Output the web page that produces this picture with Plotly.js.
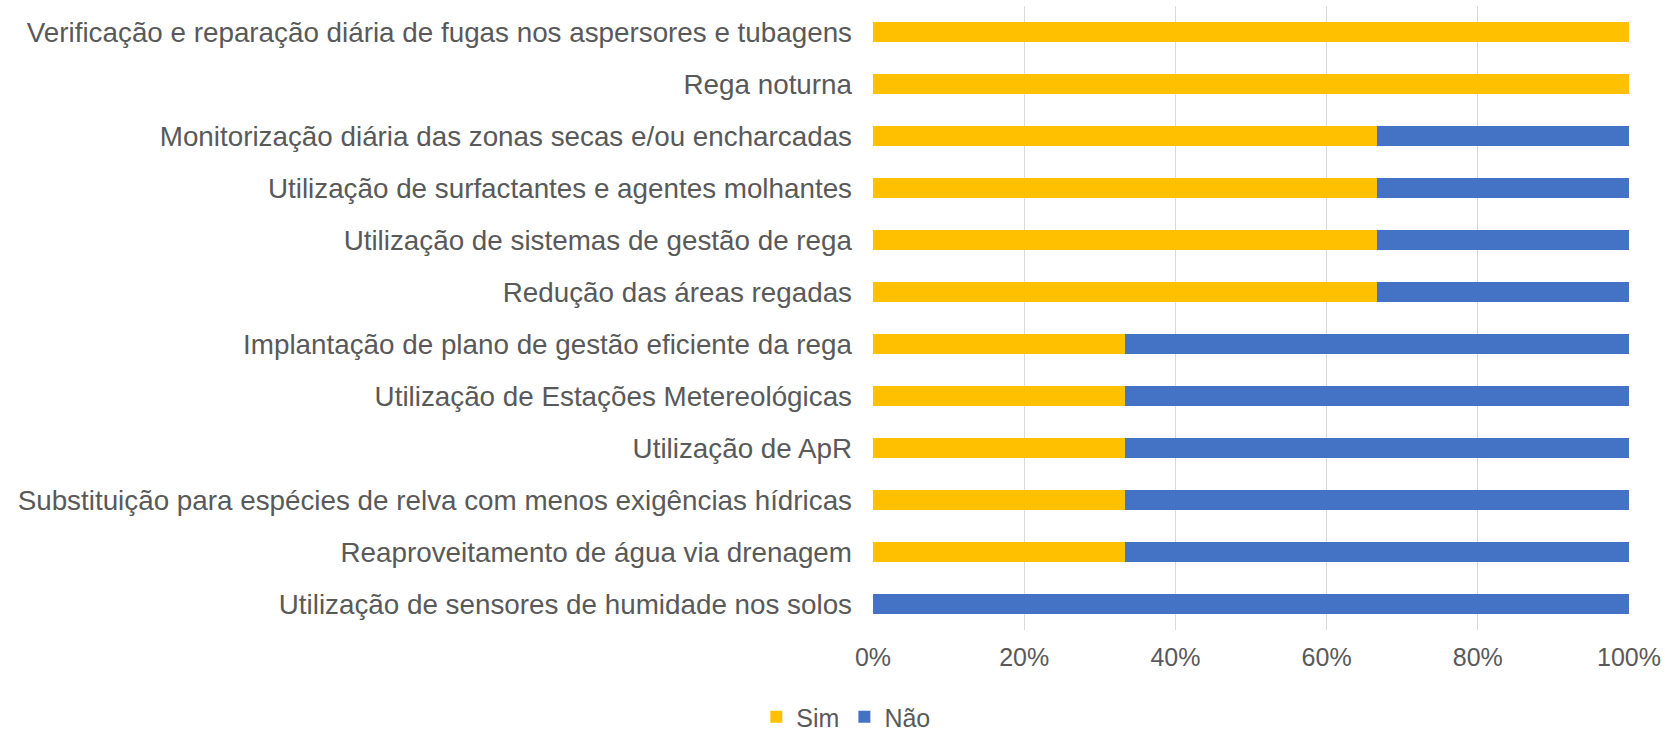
<!DOCTYPE html>
<html><head><meta charset="utf-8">
<script src="https://cdn.plot.ly/plotly-3.0.1.min.js"></script>
<style>html,body{margin:0;padding:0;background:#fff}#chart{width:1665px;height:731px}</style>
</head><body><div id="chart"></div>
<script>
const categories = [
  "Verificação e reparação diária de fugas nos aspersores e tubagens",
  "Rega noturna",
  "Monitorização diária das zonas secas e/ou encharcadas",
  "Utilização de surfactantes e agentes molhantes",
  "Utilização de sistemas de gestão de rega",
  "Redução das áreas regadas",
  "Implantação de plano de gestão eficiente da rega",
  "Utilização de Estações Metereológicas",
  "Utilização de ApR",
  "Substituição para espécies de relva com menos exigências hídricas",
  "Reaproveitamento de água via drenagem",
  "Utilização de sensores de humidade nos solos"
];
const sim = [100, 100, 66.67, 66.67, 66.67, 66.67, 33.33, 33.33, 33.33, 33.33, 33.33, 0];
const nao = [0, 0, 33.33, 33.33, 33.33, 33.33, 66.67, 66.67, 66.67, 66.67, 66.67, 100];
const tickVals = [0, 20, 40, 60, 80, 100];
const tickText = ["0%", "20%", "40%", "60%", "80%", "100%"];

const fam = "Liberation Sans";
const yFont = {family: fam, size: 27.8, color: "#595959"};
const xFont = {family: fam, size: 25, color: "#595959"};
const traces = [
  {type: "bar", orientation: "h", name: "Sim", y: categories, x: sim, marker: {color: "#FFC000"}},
  {type: "bar", orientation: "h", name: "Não", y: categories, x: nao, marker: {color: "#4472C4"}}
];
const layout = {
  width: 1665, height: 731,
  margin: {l: 873, r: 36, t: 6, b: 101},
  barmode: "stack", bargap: 0.6,
  font: xFont,
  paper_bgcolor: "#fff", plot_bgcolor: "#fff",
  showlegend: true,
  legend: {orientation: "h", x: 0.508, xanchor: "center", xref: "container", y: 0.019, yref: "container", yanchor: "middle", font: xFont, itemwidth: 30, traceorder: "normal"},
  xaxis: {range: [0, 100], tickvals: tickVals, ticktext: tickText, showgrid: true, gridcolor: "#D9D9D9", gridwidth: 1.3, zeroline: false, showline: false, ticks: "", tickfont: xFont, fixedrange: true, ticklabelstandoff: 10},
  yaxis: {type: "category", autorange: "reversed", showgrid: false, zeroline: false, showline: false, ticks: "", tickfont: yFont, ticklabelstandoff: 20}
};
Plotly.newPlot("chart", traces, layout, {displayModeBar: false, staticPlot: true});
</script></body></html>
